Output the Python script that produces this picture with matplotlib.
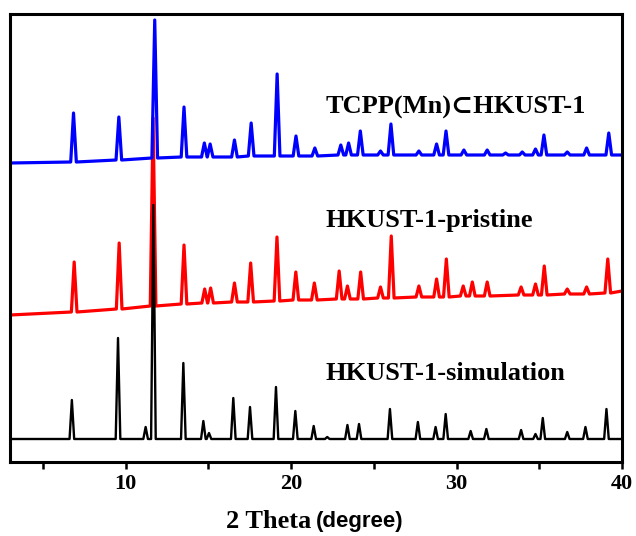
#!/usr/bin/env python3
import matplotlib.pyplot as plt

# Data: XRD peaks (2 theta, apex intensity, local baseline), a.u.
blue_pos = [6.84, 9.58, 11.75, 13.52, 14.75, 15.1, 16.57, 17.58, 19.15, 20.29, 21.43,
            23.0, 23.47, 24.18, 25.4, 26.03, 27.72, 28.79, 29.36, 30.44, 31.85,
            32.96, 33.97, 34.77, 35.28, 36.69, 37.86, 39.2]
blue_top = [349, 345, 442, 355, 319, 318, 322, 339, 388, 326, 314,
            317, 319, 331, 311, 338, 311, 318, 331, 312, 312,
            309, 310, 313, 327, 310, 314, 329]
blue_base = [300, 302, 304, 305, 305, 305, 305, 306, 306, 306, 306,
             307, 307, 307, 307, 307, 307, 307, 307, 307, 307,
             307, 307, 307, 307, 307, 307, 307]
blue_ends = [299, 307]

red_pos = [6.88, 9.6, 11.65, 13.52, 14.77, 15.13, 16.57, 17.55, 19.14, 20.28, 21.4,
           22.9, 23.4, 24.2, 25.4, 26.05, 27.72, 28.79, 29.38, 30.4, 30.95,
           31.85, 33.9, 34.77, 35.3, 36.69, 37.86, 39.14]
red_top = [200, 219, 344, 217, 173, 174, 179, 199, 225, 190, 179,
           191, 176, 190, 175, 226, 176, 183, 203, 176, 180,
           180, 175, 178, 196, 173, 175, 203]
red_base = [150, 153, 156, 158, 159, 159, 160, 160, 161, 162, 162,
            163, 163, 163, 164, 164, 165, 165, 165, 166, 166,
            166, 167, 167, 167, 168, 168, 169]
red_ends = [147, 171]

black_pos = [6.74, 9.53, 11.2, 11.67, 13.48, 14.69, 15.03, 16.5, 17.51, 19.08, 20.25,
             21.36, 22.18, 23.4, 24.1, 25.97, 27.66, 28.73, 29.34, 30.85, 31.8,
             33.9, 34.77, 35.21, 36.69, 37.79, 39.06]
black_top = [62, 124, 35, 257, 99, 41, 29, 64, 55, 75, 51,
             36, 25, 37, 38, 53, 40, 35, 48, 31, 33,
             32, 28, 44, 30, 35, 53]
black_base = [23] * len(black_pos)
black_ends = [23, 23]

labels = ['TCPP(Mn)\u2282HKUST-1', 'HKUST-1-pristine', 'HKUST-1-simulation']
label_y = [355, 242, 89]


def trace(pos, top, base, ends, w):
    xs, ys = [3.0], [ends[0]]
    for p, t, b in zip(pos, top, base):
        xs += [p - w, p, p + w]
        ys += [b, t, b]
    xs.append(40.0)
    ys.append(ends[1])
    return xs, ys


fig = plt.figure(figsize=(6.36, 5.36), dpi=100)
ax = fig.add_axes([10 / 636, 74 / 536, 612 / 636, 448 / 536])

x, y = trace(red_pos, red_top, red_base, red_ends, 0.17)
ax.plot(x, y, color='#ff0000', lw=2.3)
x, y = trace(black_pos, black_top, black_base, black_ends, 0.14)
ax.plot(x, y, color='black', lw=1.7)
x, y = trace(blue_pos, blue_top, blue_base, blue_ends, 0.17)
ax.plot(x, y, color='#0000ff', lw=2.3)

serif = ['Liberation Serif', 'DejaVu Serif']
for s, yy in zip(labels, label_y):
    ax.text(22.08, yy, s, ha='left', va='center', fontsize=19,
            fontweight='bold', family=serif)

ax.set_xlim(3, 40)
ax.set_ylim(0, 448)
ax.set_yticks([])
ax.set_xticks([10, 20, 30, 40])
ax.set_xticks([5, 15, 25, 35], minor=True)
ax.tick_params(axis='x', which='both', direction='out', length=5, width=1.8)
for t in ax.get_xticklabels():
    t.set_family(serif)
    t.set_fontweight('bold')
    t.set_fontsize(16)
for sp in ax.spines.values():
    sp.set_linewidth(2.2)

# x label: mixed serif / sans like the original
fig.text(311 / 636, 1 - 521 / 536, '2 Theta', ha='right', va='center',
         fontsize=19, fontweight='bold', family=serif)
fig.text(316 / 636, 1 - 521 / 536, '(degree)', ha='left', va='center',
         fontsize=16, fontweight='bold', family=['Liberation Sans', 'DejaVu Sans'])

fig.savefig('out.png', dpi=100, facecolor='white')
